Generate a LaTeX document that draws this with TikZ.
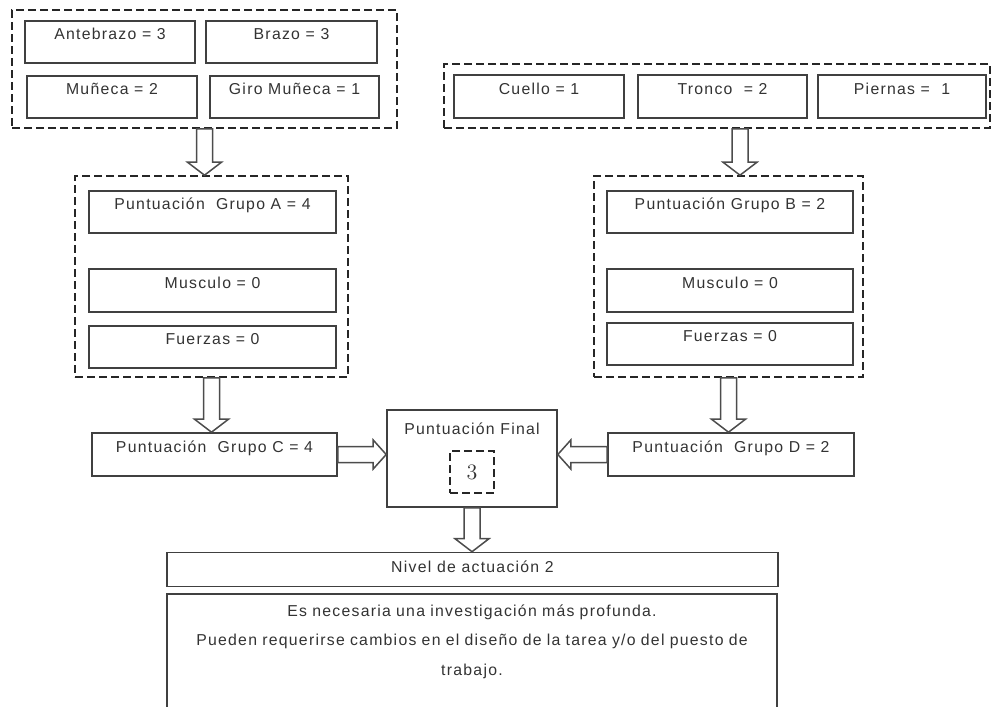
\documentclass[tikz,border=0pt]{standalone}
\usepackage{fontspec}
\newfontfamily\cajafont[LetterSpace=8]{Liberation Sans}
\usetikzlibrary{calc}

\tikzset{
  caja/.style={draw=black!75, line width=0.8pt, fill=white, text=black!80,
    font=\cajafont\fontsize{7.9pt}{9pt}\selectfont,
    text height=5.5pt, text depth=8pt, inner xsep=0pt, inner ysep=3.75pt},
  grupo/.style={draw=black!85, line width=0.8pt, dash pattern=on 4pt off 2pt, inner sep=0pt},
  hueca/.style={draw=black!70, line width=0.75pt, fill=white, line join=miter},
}

% hollow block arrow: [head half width]{from}{to}
\newcommand{\flecha}[3][8.5pt]{%
  \coordinate (hb) at ($(#3)!6.5pt!(#2)$);
  \draw[hueca] ($(#2)!4pt!90:(#3)$) -- ($(hb)!4pt!90:(#3)$) -- ($(hb)!#1!90:(#3)$)
    -- (#3) -- ($(hb)!#1!-90:(#3)$) -- ($(hb)!4pt!-90:(#3)$) -- ($(#2)!4pt!-90:(#3)$) -- cycle;
}

\begin{document}
\begin{tikzpicture}[x=0.5pt, y=-0.5pt]
        \useasboundingbox (0,0) rectangle (993,707);
        \clip (0,0) rectangle (993,707);

        % Dashed groups
        \node[grupo, minimum width=192.5pt, minimum height=59pt] (brazos) at (204.5,69) {};
        \node[grupo, minimum width=273pt, minimum height=32pt] (derecha) at (717,96) {};
        \node[grupo, minimum width=136.5pt, minimum height=100.5pt] (grpA) at (211.5,276.5) {};
        \node[grupo, minimum width=134.5pt, minimum height=100.5pt] (grpB) at (728.5,276.5) {};

        % Group A inputs
        \node[caja, minimum width=85pt, minimum height=21pt] (antebrazo) at (110,42) {Antebrazo = 3};
        \node[caja, minimum width=85.5pt, minimum height=21pt] (brazo) at (291.5,42) {Brazo = 3};
        \node[caja, minimum width=85pt, minimum height=21pt] (muneca) at (112,97) {Muñeca = 2};
        \node[caja, minimum width=84.5pt, minimum height=21pt] (giro) at (294.5,97) {Giro Muñeca = 1};

        % Group B inputs
        \node[caja, minimum width=85pt, minimum height=21.5pt] (cuello) at (539,96.5) {Cuello = 1};
        \node[caja, minimum width=84.5pt, minimum height=21.5pt] (tronco) at (722.5,96.5) {Tronco~ = 2};
        \node[caja, minimum width=84pt, minimum height=21.5pt] (piernas) at (902,96.5) {Piernas =~ 1};

        % Scores A and B
        \node[caja, minimum width=123.5pt, minimum height=21pt] (grupoA) at (212.5,212) {Puntuación~ Grupo A = 4};
        \node[caja, minimum width=123.5pt, minimum height=21.5pt] (musculoA) at (212.5,290.5) {Musculo = 0};
        \node[caja, minimum width=123.5pt, minimum height=21pt] (fuerzasA) at (212.5,347) {Fuerzas = 0};
        \node[caja, minimum width=123pt, minimum height=21pt] (grupoB) at (730,212) {Puntuación Grupo B = 2};
        \node[caja, minimum width=123pt, minimum height=21.5pt] (musculoB) at (730,290.5) {Musculo = 0};
        \node[caja, minimum width=123pt, minimum height=21pt] (fuerzasB) at (730,344) {Fuerzas = 0};

        % Scores C, D and final
        \node[caja, minimum width=122.5pt, minimum height=21.5pt] (cajaC) at (214.5,454.5) {Puntuación~ Grupo C = 4};
        \node[caja, minimum width=123pt, minimum height=21.5pt] (cajaD) at (731,454.5) {Puntuación~ Grupo D = 2};
        \node[caja, minimum width=85pt, minimum height=48.5pt, inner ysep=6.75pt, text depth=29.5pt] (final) at (472,458.5) {Puntuación Final};
        \node[grupo, minimum width=22pt, minimum height=21pt, text=black!80, font=\fontsize{11pt}{13pt}\selectfont] (tres) at (472,472) {3};

        % Action level
        \node[caja, minimum width=305.5pt, minimum height=16.5pt, inner ysep=4.5pt, text depth=2.5pt] (nivel) at (472.5,569.5) {Nivel de actuación 2};
        \node[caja, anchor=north, text width=305pt, align=center, inner ysep=5.75pt, text depth=48pt,
              font=\cajafont\fontsize{7.9pt}{14.75pt}\selectfont] (texto) at (472,593)
              {Es necesaria una investigación más profunda.\\
               Pueden requerirse cambios en el diseño de la tarea y/o del puesto de\\
               trabajo.};

        % Arrows
        \coordinate (salidaB) at ($(derecha.south)+(23,0)$);
        \flecha{brazos.south}{brazos.south |- grpA.north}
        \flecha{salidaB}{salidaB |- grpB.north}
        \flecha{grpA.south}{grpA.south |- cajaC.north}
        \flecha{grpB.south}{grpB.south |- cajaD.north}
        \flecha[7.25pt]{cajaC.east}{cajaC.east -| final.west}
        \flecha[7.25pt]{cajaD.west}{cajaD.west -| final.east}
        \flecha{final.south}{final.south |- nivel.north}
    \end{tikzpicture}
\end{document}
